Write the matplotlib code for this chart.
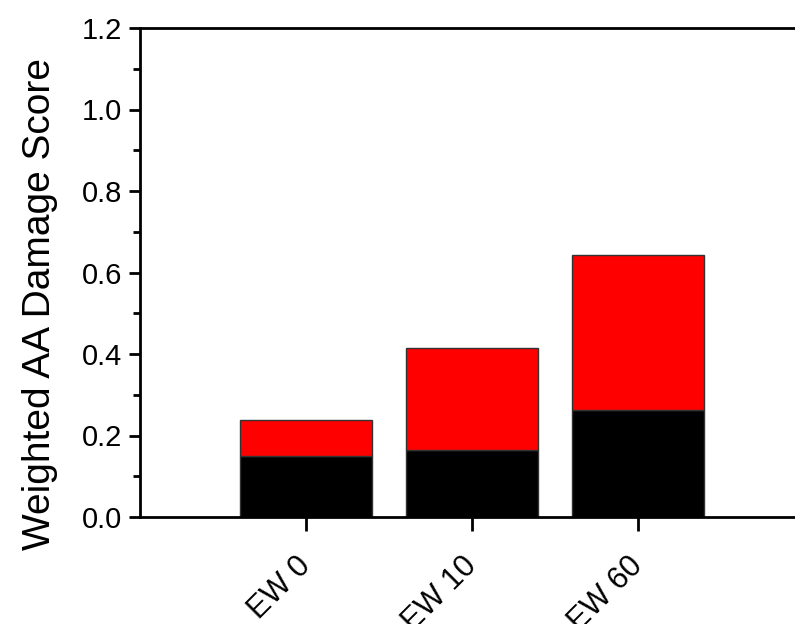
import matplotlib
matplotlib.use("Agg")
import matplotlib.pyplot as plt
from matplotlib.ticker import MultipleLocator

plt.rcParams['font.family'] = ['Liberation Sans', 'DejaVu Sans']

categories = ["EW 0", "EW 10", "EW 60"]
black_part = [0.150, 0.164, 0.263]
red_part = [0.088, 0.251, 0.380]

fig = plt.figure(figsize=(7.95, 6.24), dpi=100)
# axes extends past right edge (cropped in reference)
ax = fig.add_axes([140/795, 1-517/624, 664/795, 489/624])

x = [1, 2, 3]
ax.bar(x, black_part, width=0.8, color='black', edgecolor='#333333', linewidth=1)
ax.bar(x, red_part, width=0.8, bottom=black_part, color='#ff0000', edgecolor='#333333', linewidth=1)

ax.set_xlim(0, 4)
ax.set_ylim(0, 1.2)
ax.set_xticks(x)
ax.set_xticklabels(categories, rotation=45, ha='right', va='center', rotation_mode='anchor', fontsize=22)
ax.yaxis.set_minor_locator(MultipleLocator(0.1))
ax.set_yticks([0, 0.2, 0.4, 0.6, 0.8, 1.0, 1.2])
ax.set_yticklabels(['0.0', '0.2', '0.4', '0.6', '0.8', '1.0', '1.2'], fontsize=21)
ax.tick_params(axis='y', which='major', direction='out', length=8, width=2, pad=5)
ax.tick_params(axis='y', which='minor', direction='out', length=5, width=2)
ax.tick_params(axis='x', which='major', direction='out', length=10, width=2, pad=22)
ax.tick_params(axis='x', which='minor', bottom=False)

for s in ['left', 'bottom', 'top']:
    ax.spines[s].set_linewidth(2)
ax.spines['right'].set_visible(False)

ax.set_ylabel('Weighted AA Damage Score', fontsize=28)
ax.yaxis.set_label_coords(-0.124, 0.436)

fig.savefig('out.png', dpi=100)
